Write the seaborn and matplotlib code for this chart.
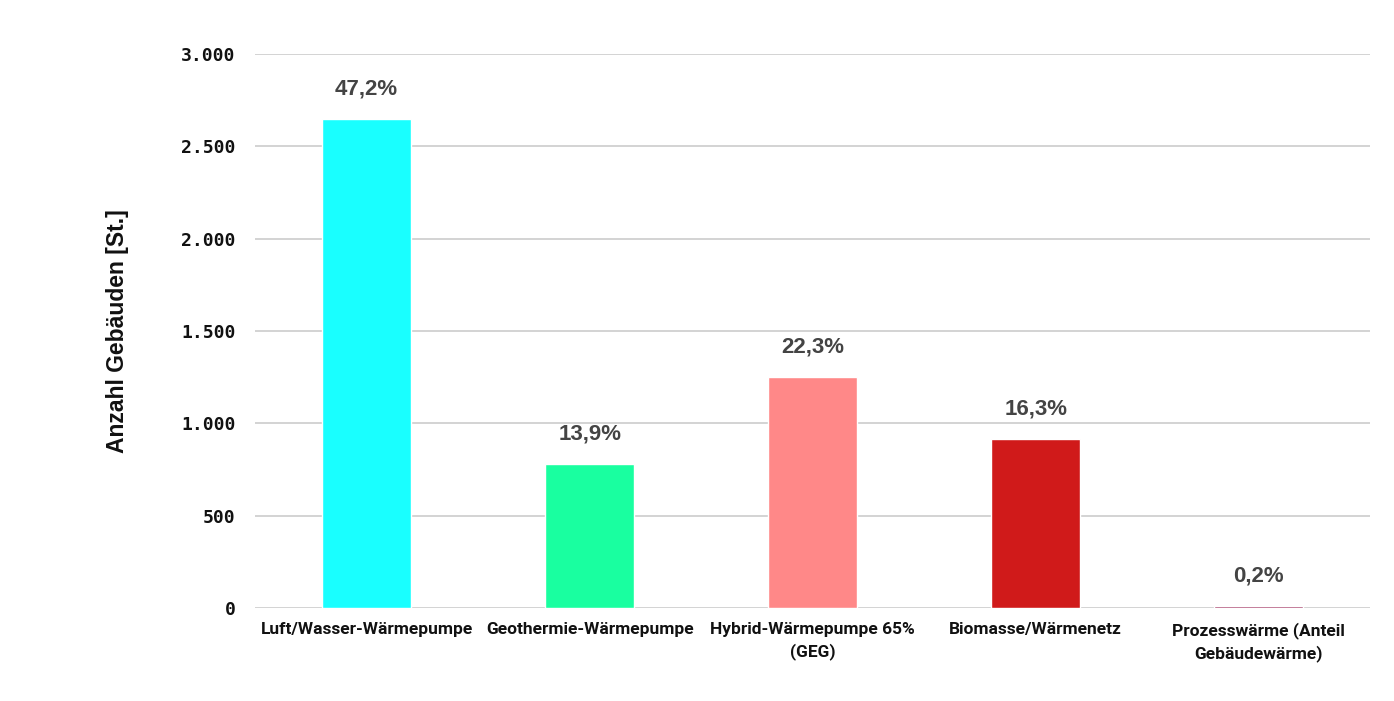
import matplotlib
matplotlib.use("Agg")
import matplotlib.pyplot as plt
import seaborn as sns
import pandas as pd

categories = ["Luft/Wasser-Wärmepumpe", "Geothermie-Wärmepumpe", "Hybrid-Wärmepumpe 65%\n(GEG)",
              "Biomasse/Wärmenetz", "Prozesswärme (Anteil\nGebäudewärme)"]
values = [2648, 780, 1251, 914, 11]
percent_labels = ["47,2%", "13,9%", "22,3%", "16,3%", "0,2%"]
colors = ["#19FFFF", "#19FFA0", "#FF8888", "#D01A1A", "#A0305F"]
y_ticks = [0, 500, 1000, 1500, 2000, 2500, 3000]
y_tick_labels = ["0", "500", "1.000", "1.500", "2.000", "2.500", "3.000"]

sns.set_theme(style="white")
plt.rcParams['font.family'] = ['Liberation Sans', 'DejaVu Sans']

df = pd.DataFrame({"cat": categories, "val": values})

fig = plt.figure(figsize=(13.94, 7.01), dpi=100)
ax = fig.add_axes([0.183, 0.1327, 0.8, 0.7903])

sns.barplot(data=df, x="cat", y="val", hue="cat", palette=colors, width=0.4,
            legend=False, ax=ax, saturation=1)

ax.set_xlim(-0.5, 4.5)
ax.set_ylim(0, 3000)
ax.set_yticks(y_ticks)
ax.set_yticklabels(y_tick_labels, fontfamily="DejaVu Sans Mono", fontweight="bold",
                   fontsize=13, color="#111111")
ax.grid(axis="y", color="#cccccc", linewidth=1.2)
ax.set_axisbelow(True)
for s in ax.spines.values():
    s.set_visible(False)
ax.tick_params(axis="y", length=0, pad=14)
ax.tick_params(axis="x", length=0, pad=10)
for lbl in ax.get_xticklabels():
    lbl.set_fontfamily(['Liberation Sans Narrow', 'Roboto', 'DejaVu Sans'])
    lbl.set_fontweight("bold")
    lbl.set_fontsize(12.5)
    lbl.set_color("#111111")
    lbl.set_linespacing(1.5)

ax.set_xlabel("")
ax.set_ylabel("Anzahl Gebäuden [St.]", fontsize=16.5, fontweight="bold", color="#111111", labelpad=38)

for i, (v, p) in enumerate(zip(values, percent_labels)):
    ax.annotate(p, (i, v), xytext=(0, 14), textcoords="offset points", ha="center", va="bottom",
                fontsize=16, fontweight="bold", color="#444444")

fig.savefig("out.png", dpi=100)
